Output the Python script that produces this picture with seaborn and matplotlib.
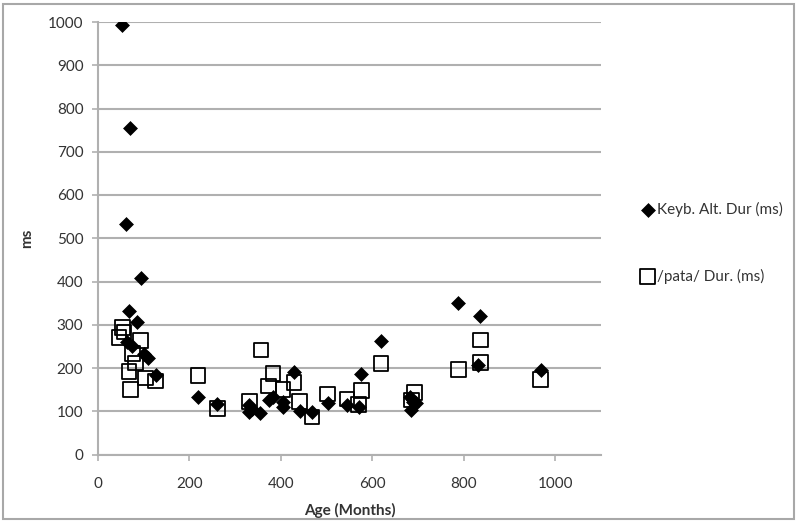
import matplotlib
matplotlib.use("Agg")
import matplotlib.pyplot as plt
import matplotlib.patches as mpatches
import seaborn as sns
import pandas as pd

# Keyboard alternation duration (filled diamonds)
keyb_age = [52, 71, 62, 93, 68, 86, 64, 75, 100, 110, 127, 219, 261, 331, 336, 331,
            354, 373, 383, 405, 405, 429, 441, 468, 502, 545, 570, 576, 619, 682,
            688, 684, 695, 788, 836, 831, 968]
keyb_ms = [992, 756, 534, 409, 332, 306, 260, 252, 233, 223, 183, 132, 117, 114, 106, 99,
           96, 126, 134, 122, 110, 191, 100, 99, 119, 114, 109, 187, 262, 134,
           122, 104, 120, 351, 321, 208, 195]

# /pata/ duration (open squares)
pata_age = [53, 57, 46, 93, 75, 82, 68, 104, 126, 71, 219, 261, 331, 356, 373, 383,
            405, 429, 441, 468, 502, 545, 570, 576, 619, 692, 686, 788, 836, 836, 968]
pata_ms = [294, 283, 271, 264, 233, 212, 192, 177, 170, 150, 183, 106, 122, 242, 158, 187,
           150, 167, 123, 87, 140, 128, 116, 148, 211, 143, 126, 197, 213, 265, 174]

keyb_label = "Keyb. Alt. Dur (ms)"
pata_label = "/pata/ Dur. (ms)"

df_keyb = pd.DataFrame({"age": keyb_age, "ms": keyb_ms})
df_pata = pd.DataFrame({"age": pata_age, "ms": pata_ms})

sns.set_style("white")
plt.rcParams["font.family"] = ["Lato", "DejaVu Sans"]

fig = plt.figure(figsize=(8, 5.24), dpi=100)
ax = fig.add_axes([98 / 800, 1 - 454.5 / 524, 503 / 800, 432.5 / 524])

sns.scatterplot(data=df_keyb, x="age", y="ms", marker="D", color="black",
                edgecolor="black", s=50, linewidth=0.5, label=keyb_label, ax=ax, zorder=3)
sns.scatterplot(data=df_pata, x="age", y="ms", marker="s", facecolors="none",
                edgecolor="black", s=110, linewidth=1.3, label=pata_label, ax=ax, zorder=3)

ax.set_xlim(0, 1100)
ax.set_ylim(0, 1000)
ax.set_xticks(range(0, 1001, 200))
ax.set_yticks(range(0, 1001, 100))
ax.yaxis.grid(True, color="#b0b0b0", linewidth=1.5)
ax.xaxis.grid(False)
for side in ["top", "right"]:
    ax.spines[side].set_visible(False)
for side in ["left", "bottom"]:
    ax.spines[side].set_color("#b0b0b0")
    ax.spines[side].set_linewidth(1.5)
ax.tick_params(axis="both", colors="#b0b0b0", labelcolor="#333333", labelsize=11,
               length=4, width=1.2, direction="out")
ax.tick_params(axis="x", bottom=True, pad=12)
ax.tick_params(axis="y", left=True, pad=6.5)

ax.set_xlabel("Age (Months)", fontsize=11, fontweight="bold", color="#333333", labelpad=9)
ax.set_ylabel("ms", fontsize=11, fontweight="bold", color="#333333", labelpad=10)

ax.legend(loc="center left", bbox_to_anchor=(1.05, 0.49), frameon=False,
          labelspacing=3.4, handletextpad=0.1, handlelength=1.0, fontsize=11,
          labelcolor="#333333")

# outer chart border
fig.patches.append(mpatches.Rectangle((3 / 800, 5 / 524), 791 / 800, 1 - 9 / 524,
                                      transform=fig.transFigure, fill=False,
                                      edgecolor="#a8a8a8", linewidth=1.5))

fig.savefig("out.png", dpi=100)
